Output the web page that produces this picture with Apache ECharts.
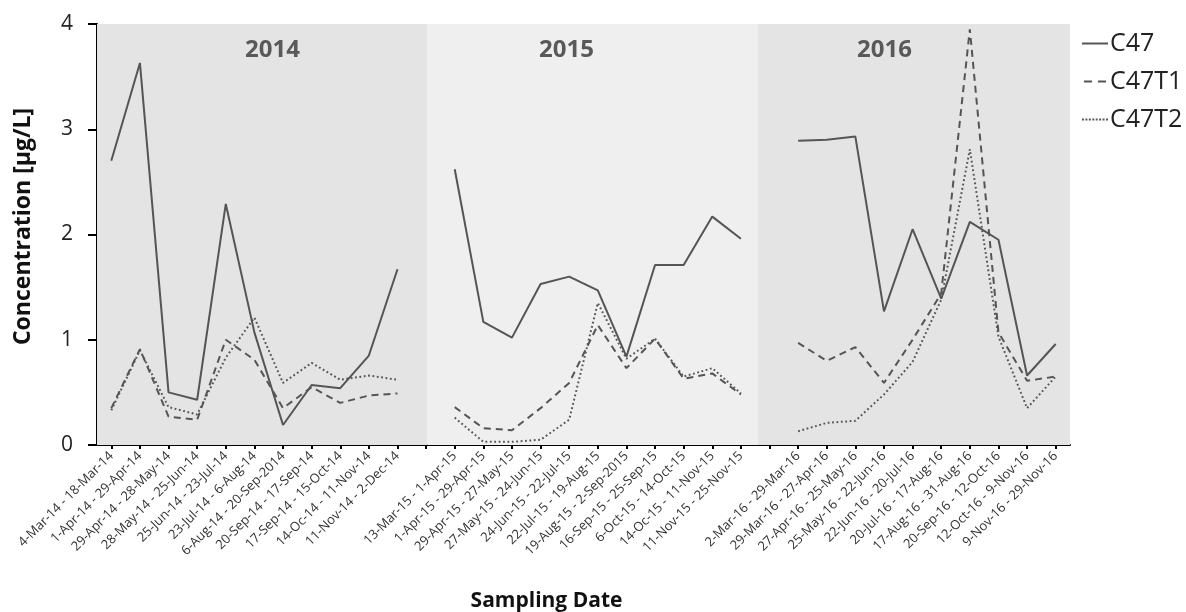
<!DOCTYPE html>
<html>
<head>
<meta charset="utf-8">
<script src="https://cdn.jsdelivr.net/npm/echarts@6/dist/echarts.min.js"></script>
<style>
html,body{margin:0;padding:0;background:#fff;}
#chart{width:1186px;height:612px;}
</style>
</head>
<body>
<div id="chart"></div>
<script>
// ---- data ----
const categories = [
  "4-Mar-14 - 18-Mar-14", "1-Apr-14 - 29-Apr-14", "29-Apr-14 - 28-May-14", "28-May-14 - 25-Jun-14",
  "25-Jun-14 - 23-Jul-14", "23-Jul-14 - 6-Aug-14", "6-Aug-14 - 20-Sep-2014", "20-Sep-14 - 17-Sep-14",
  "17-Sep-14 - 15-Oct-14", "14-Oc-14 - 11-Nov-14", "11-Nov-14 - 2-Dec-14",
  "",
  "13-Mar-15 - 1-Apr-15", "1-Apr-15 - 29-Apr-15", "29-Apr-15 - 27-May-15", "27-May-15 - 24-Jun-15",
  "24-Jun-15 - 22-Jul-15", "22-Jul-15 - 19-Aug-15", "19-Aug-15 - 2-Sep-2015", "16-Sep-15 - 25-Sep-15",
  "6-Oct-15 - 14-Oct-15", "14-Oc-15 - 11-Nov-15", "11-Nov-15 - 25-Nov-15",
  "",
  "2-Mar-16 - 29-Mar-16", "29-Mar-16 - 27-Apr-16", "27-Apr-16 - 25-May-16", "25-May-16 - 22-Jun-16",
  "22-Jun-16 - 20-Jul-16", "20-Jul-16 - 17-Aug-16", "17-Aug-16 - 31-Aug-16", "20-Sep-16 - 12-Oct-16",
  "12-Oct-16 - 9-Nov-16", "9-Nov-16 - 29-Nov-16"
];
const c47 = [
  2.70, 3.63, 0.50, 0.43, 2.29, 1.07, 0.19, 0.57, 0.54, 0.85, 1.67,
  null,
  2.62, 1.17, 1.02, 1.53, 1.60, 1.47, 0.84, 1.71, 1.71, 2.17, 1.96,
  null,
  2.89, 2.90, 2.93, 1.27, 2.05, 1.39, 2.12, 1.95, 0.66, 0.96
];
const c47t1 = [
  0.35, 0.91, 0.27, 0.24, 1.00, 0.81, 0.35, 0.55, 0.40, 0.47, 0.49,
  null,
  0.36, 0.16, 0.14, 0.35, 0.59, 1.14, 0.73, 1.01, 0.63, 0.68, 0.48,
  null,
  0.97, 0.80, 0.93, 0.59, 1.00, 1.44, 3.95, 1.07, 0.61, 0.65
];
const c47t2 = [
  0.33, 0.90, 0.36, 0.29, 0.83, 1.21, 0.59, 0.78, 0.62, 0.66, 0.62,
  null,
  0.26, 0.03, 0.03, 0.05, 0.24, 1.35, 0.82, 1.01, 0.65, 0.73, 0.49,
  null,
  0.13, 0.21, 0.23, 0.48, 0.79, 1.38, 2.81, 1.03, 0.35, 0.65
];
const yearLabels = ["2014", "2015", "2016"];
const yTicks = [0, 1, 2, 3, 4];

// ---- chart ----
const chart = echarts.init(document.getElementById('chart'), null, {renderer: 'canvas'});
const lineColor = '#555555';
const font = '"Open Sans", "DejaVu Sans", sans-serif';

const option = {
  backgroundColor: '#ffffff',
  animation: false,
  grid: {left: 97, right: 116, top: 24, bottom: 167, containLabel: false, outerBoundsMode: 'none'},
  legend: {
    orient: 'vertical',
    left: 1082,
    top: 29,
    itemWidth: 26,
    itemHeight: 2,
    itemGap: 13,
    backgroundColor: '#ffffff',
    padding: [2, 0, 6, 0],
    textStyle: {fontFamily: font, fontSize: 25, color: '#222', padding: [0, 0, 0, -3]},
    data: [
      {name: 'C47', icon: 'path://M0,0H26V2H0Z'},
      {name: 'C47T1', icon: 'path://M0,0H8V2H0Z M14,0H22V2H14Z'},
      {name: 'C47T2', icon: 'path://M0,0H2V2H0Z M3.5,0H5.5V2H3.5Z M7,0H9V2H7Z M10.5,0H12.5V2H10.5Z M14,0H16V2H14Z M17.5,0H19.5V2H17.5Z M21,0H23V2H21Z M24.5,0H26.5V2H24.5Z'}
    ]
  },
  xAxis: [{
    type: 'category',
    data: categories,
    boundaryGap: true,
    axisLine: {lineStyle: {color: '#000', width: 2}},
    axisTick: {show: true, alignWithLabel: true, length: 4, lineStyle: {color: '#000', width: 2}, interval: 0},
    axisLabel: {interval: 0, rotate: 45, fontFamily: font, fontSize: 13, color: '#333', margin: 9},
    name: 'Sampling Date',
    nameLocation: 'middle',
    nameGap: 146,
    nameTextStyle: {fontFamily: font, fontSize: 21, fontWeight: 'bold', color: '#111', padding: [0, 74, 0, 0]},
    splitLine: {show: false}
  }, {
    type: 'value',
    min: 0,
    max: categories.length,
    show: false
  }],
  yAxis: {
    type: 'value',
    min: yTicks[0],
    max: yTicks[yTicks.length - 1],
    interval: 1,
    axisLine: {show: true, lineStyle: {color: '#000', width: 2}},
    axisTick: {show: true, length: 9, inside: false, lineStyle: {color: '#000', width: 2}},
    axisLabel: {fontFamily: font, fontSize: 21, color: '#222', margin: 24},
    splitLine: {show: false},
    name: 'Concentration [µg/L]',
    nameLocation: 'middle',
    nameGap: 62,
    nameTextStyle: {fontFamily: font, fontSize: 23, fontWeight: 'bold', color: '#111', padding: [0, 0, 0, 16]}
  },
  graphic: [
    {type: 'text', left: 245, top: 38, z: 10, style: {text: yearLabels[0], font: 'bold 24px "Open Sans"', fill: '#595959'}},
    {type: 'text', left: 539, top: 38, z: 10, style: {text: yearLabels[1], font: 'bold 24px "Open Sans"', fill: '#595959'}},
    {type: 'text', left: 857, top: 38, z: 10, style: {text: yearLabels[2], font: 'bold 24px "Open Sans"', fill: '#595959'}}
  ],
  series: [
    {
      name: 'bands',
      type: 'line',
      xAxisIndex: 1,
      data: [],
      silent: true,
      z: 0,
      markArea: {
        silent: true,
        data: [
          [{xAxis: 0, yAxis: 0, itemStyle: {color: '#e4e4e4'}}, {xAxis: 11.55, yAxis: 4}],
          [{xAxis: 11.55, yAxis: 0, itemStyle: {color: '#efefef'}}, {xAxis: 23.1, yAxis: 4}],
          [{xAxis: 23.1, yAxis: 0, itemStyle: {color: '#e4e4e4'}}, {xAxis: categories.length, yAxis: 4}]
        ]
      }
    },
    {
      name: 'C47', type: 'line', data: c47, symbol: 'none', connectNulls: false, z: 5,
      lineStyle: {color: lineColor, width: 2, type: 'solid'},
      itemStyle: {color: lineColor}
    },
    {
      name: 'C47T1', type: 'line', data: c47t1, symbol: 'none', connectNulls: false, z: 4,
      lineStyle: {color: lineColor, width: 2, type: [7, 5]},
      itemStyle: {color: lineColor}
    },
    {
      name: 'C47T2', type: 'line', data: c47t2, symbol: 'none', connectNulls: false, z: 3,
      lineStyle: {color: lineColor, width: 2, type: [1.8, 2.6]},
      itemStyle: {color: lineColor}
    }
  ]
};
chart.setOption(option);
</script>
</body>
</html>
